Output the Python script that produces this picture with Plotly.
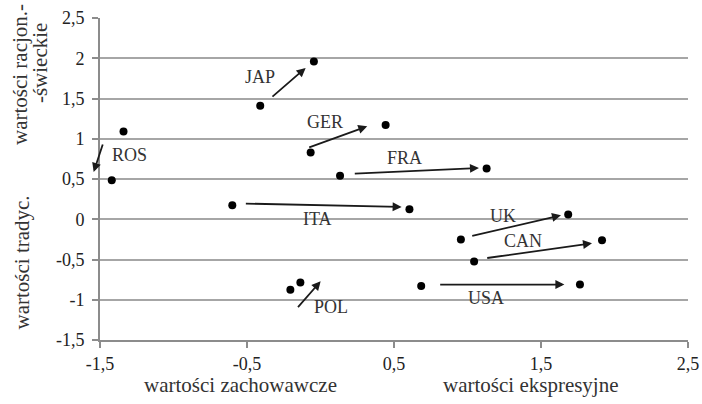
import plotly.graph_objects as go

countries = ["ROS", "JAP", "GER", "FRA", "ITA", "UK", "CAN", "USA", "POL"]
# first measurement (start point)
x_start = [-1.34, -0.41, -0.067, 0.133, -0.60, 0.955, 1.045, 0.685, -0.205]
y_start = [1.09, 1.41, 0.83, 0.54, 0.175, -0.25, -0.525, -0.83, -0.875]
# second measurement (end point)
x_end = [-1.42, -0.045, 0.443, 1.13, 0.605, 1.685, 1.915, 1.765, -0.137]
y_end = [0.485, 1.96, 1.17, 0.63, 0.125, 0.06, -0.26, -0.81, -0.785]
# arrow tails and heads
arrow_x0 = [-1.478, -0.337, -0.087, 0.223, -0.518, 1.022, 1.124, 0.804, -0.162]
arrow_y0 = [0.948, 1.507, 0.886, 0.567, 0.195, -0.211, -0.484, -0.811, -1.11]
arrow_x1 = [-1.543, -0.101, 0.318, 1.078, 0.552, 1.636, 1.847, 1.659, 0.001]
arrow_y1 = [0.588, 1.88, 1.155, 0.637, 0.153, 0.050, -0.298, -0.811, -0.77]
# label positions
label_x = [-1.296, -0.412, 0.031, 0.568, -0.022, 1.244, 1.375, 1.124, 0.069]
label_y = [0.795, 1.77, 1.205, 0.766, 0.0, 0.037, -0.27, -0.981, -1.09]

x_ticks = [-1.5, -0.5, 0.5, 1.5, 2.5]
y_ticks = [-1.5, -1, -0.5, 0, 0.5, 1, 1.5, 2, 2.5]

def fmt(v):
    return ("%g" % v).replace(".", ",")

FONT = "Liberation Serif"
TXT = "#333333"
TICK = "#222222"

fig = go.Figure()
fig.add_trace(go.Scatter(
    x=x_start + x_end, y=y_start + y_end, mode="markers",
    marker=dict(color="black", size=8), showlegend=False, hoverinfo="skip"))

for i, c in enumerate(countries):
    fig.add_annotation(
        x=arrow_x1[i], y=arrow_y1[i], ax=arrow_x0[i], ay=arrow_y0[i],
        xref="x", yref="y", axref="x", ayref="y", text="",
        showarrow=True, arrowhead=2, arrowsize=1, arrowwidth=1.8,
        arrowcolor="#1a1a1a", standoff=0, startstandoff=0)
    fig.add_annotation(
        x=label_x[i], y=label_y[i], xref="x", yref="y", text=c,
        showarrow=False, font=dict(family=FONT, size=18, color=TXT))

tfont = dict(family=FONT, size=21, color=TXT)
# axis titles
fig.add_annotation(x=-0.541, y=-0.14, xref="x", yref="paper", text="wartości zachowawcze",
                   showarrow=False, font=tfont, xanchor="center", yanchor="middle")
fig.add_annotation(x=1.432, y=-0.14, xref="x", yref="paper", text="wartości ekspresyjne",
                   showarrow=False, font=tfont, xanchor="center", yanchor="middle")
fig.add_annotation(xref="paper", yref="paper", x=-0.136, y=0.823, text="wartości racjon.-",
                   textangle=-90, showarrow=False, font=tfont, xanchor="center", yanchor="middle")
fig.add_annotation(xref="paper", yref="paper", x=-0.102, y=0.86, text="-świeckie",
                   textangle=-90, showarrow=False, font=tfont, xanchor="center", yanchor="middle")
fig.add_annotation(xref="paper", yref="paper", x=-0.133, y=0.24, text="wartości tradyc.",
                   textangle=-90, showarrow=False, font=tfont, xanchor="center", yanchor="middle")

fig.update_layout(
    width=702, height=404, margin=dict(l=100, r=14, t=18, b=64, autoexpand=False),
    plot_bgcolor="white", paper_bgcolor="white",
    font=dict(family=FONT, size=18, color=TXT),
    xaxis=dict(range=[-1.5, 2.5], tickvals=x_ticks, ticktext=[fmt(v) for v in x_ticks],
               showgrid=False, zeroline=False, showline=True, linecolor="#8c8c8c",
               linewidth=2, ticks="outside", ticklen=6, tickcolor="#8c8c8c", tickwidth=1.5,
               tickfont=dict(family=FONT, size=18, color=TICK)),
    yaxis=dict(range=[-1.5, 2.5], tickvals=y_ticks, ticktext=[fmt(v) for v in y_ticks],
               showgrid=True, gridcolor="#a6a6a6", gridwidth=1.5, zeroline=False,
               showline=True, linecolor="#8c8c8c", linewidth=2, ticks="outside", ticklen=6,
               tickcolor="#8c8c8c", tickwidth=1.5, ticklabelstandoff=4,
               tickfont=dict(family=FONT, size=18, color=TICK)),
)

fig.write_html("out.html", config={"displayModeBar": False},
               post_script="document.body.style.margin='0';document.body.style.padding='0';")
